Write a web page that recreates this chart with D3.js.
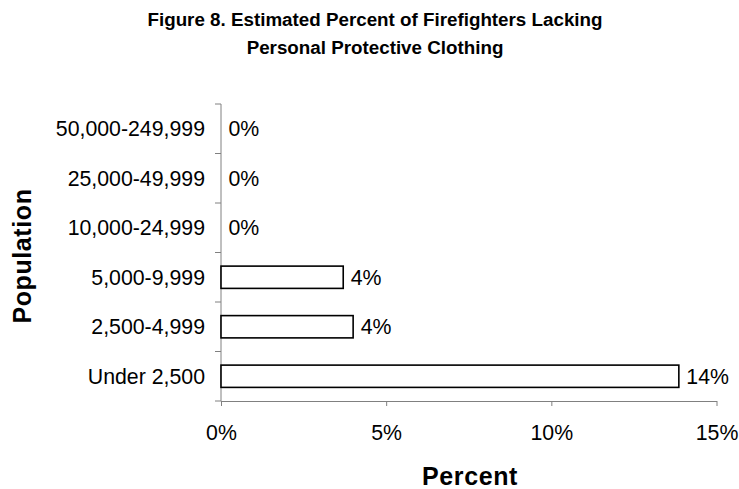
<!DOCTYPE html>
<html><head><meta charset="utf-8">
<script src="https://cdn.jsdelivr.net/npm/d3@7"></script>
<style>body{margin:0;background:#fff}svg{display:block}text{font-family:"Liberation Sans",Arial,sans-serif}</style>
</head><body><svg id="c" width="739" height="489"></svg>
<script>
const categories = ["50,000-249,999","25,000-49,999","10,000-24,999","5,000-9,999","2,500-4,999","Under 2,500"];
const values = [0, 0, 0, 3.7, 4.0, 13.86];
const valueLabels = ["0%","0%","0%","4%","4%","14%"];
const xTicks = [0, 5, 10, 15];
const titleLines = ["Figure 8. Estimated Percent of Firefighters Lacking","Personal Protective Clothing"];

const FS = 21.3;
const svg = d3.select("#c");
const x = d3.scaleLinear().domain([0,15]).range([221,716.5]);
const y = d3.scaleBand().domain(categories).range([104,401]).paddingInner(0.55).paddingOuter(0.275);

svg.selectAll(".t").data(titleLines).join("text")
  .attr("x",375).attr("y",(d,i)=>25.5+i*28.5).attr("text-anchor","middle")
  .attr("font-size",18.8).attr("font-weight","bold").text(d=>d);

const xa = svg.append("g").attr("transform","translate(0,401)")
  .call(d3.axisBottom(x).tickValues(xTicks).tickFormat(d=>d+"%").tickSize(5).tickSizeOuter(0));
xa.select(".domain").attr("stroke","#808080");
xa.selectAll(".tick line").attr("stroke","#808080");
xa.selectAll(".tick text").attr("font-size",FS).attr("fill","#000").attr("dy","0").attr("y",38.5);

const step = y.step();
const ya = svg.append("g").attr("transform","translate(221,0)")
  .call(d3.axisLeft(y).tickSize(0).tickSizeOuter(0));
ya.select(".domain").attr("stroke","#808080").attr("d","M0,104V401");
ya.selectAll(".tick text").attr("font-size",FS).attr("fill","#000").attr("x",-16).attr("dy","0.36em");
// band boundary ticks
const bounds = d3.range(categories.length+1).map(i=>104+i*step);
svg.selectAll(".bt").data(bounds).join("line")
  .attr("x1",215).attr("x2",221).attr("y1",d=>d).attr("y2",d=>d).attr("stroke","#808080");

svg.selectAll(".bar").data(values).join("rect")
  .attr("x",x(0)).attr("y",(d,i)=>y(categories[i]))
  .attr("width",d=>x(d)-x(0)).attr("height",y.bandwidth())
  .attr("fill",d=>d>0?"#fff":"none").attr("stroke",d=>d>0?"#000":"none").attr("stroke-width",1.6);

svg.selectAll(".vl").data(values).join("text")
  .attr("x",d=>x(d)+7.5).attr("y",(d,i)=>y(categories[i])+y.bandwidth()/2)
  .attr("dy","0.36em").attr("font-size",FS).text((d,i)=>valueLabels[i]);

svg.append("text").attr("x",470).attr("y",485).attr("text-anchor","middle")
  .attr("font-size",25).attr("font-weight","bold").attr("letter-spacing",0.6).text("Percent");
svg.append("text").attr("transform","translate(31,256) rotate(-90)").attr("text-anchor","middle")
  .attr("font-size",25).attr("font-weight","bold").attr("letter-spacing",0.6).text("Population");
</script></body></html>
